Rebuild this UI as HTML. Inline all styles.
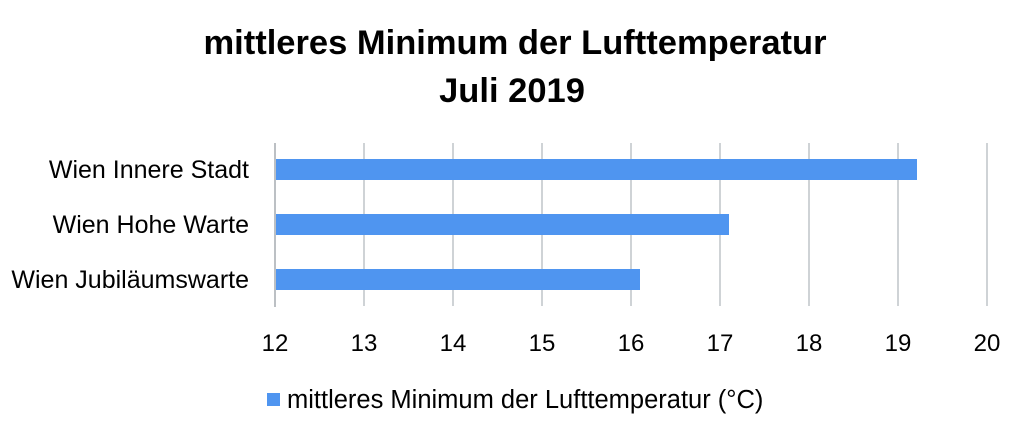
<!DOCTYPE html>
<html><head><style>
body{margin:0;background:#fff;width:1024px;height:433px;overflow:hidden;font-family:"Liberation Sans",sans-serif;}
</style></head><body>
<svg width="1024" height="433" xmlns="http://www.w3.org/2000/svg" font-family="Liberation Sans, sans-serif">
<text x="515" y="54" text-anchor="middle" font-size="34.5" font-weight="bold" fill="#000">mittleres Minimum der Lufttemperatur</text>
<text x="512" y="102" text-anchor="middle" font-size="34.5" font-weight="bold" fill="#000">Juli 2019</text>
<g stroke="#cfd3d6" stroke-width="2">
<line x1="364" y1="143" x2="364" y2="306"/><line x1="453" y1="143" x2="453" y2="306"/>
<line x1="542" y1="143" x2="542" y2="306"/><line x1="631" y1="143" x2="631" y2="306"/>
<line x1="720" y1="143" x2="720" y2="306"/><line x1="809" y1="143" x2="809" y2="306"/>
<line x1="898" y1="143" x2="898" y2="306"/><line x1="987" y1="143" x2="987" y2="306"/>
</g>
<g stroke="#bcc0c4" stroke-width="2"><line x1="275" y1="143" x2="275" y2="307"/><line x1="274" y1="306" x2="275" y2="306"/></g>
<g fill="#4f95f0">
<rect x="276" y="159" width="641" height="21"/>
<rect x="276" y="214" width="453" height="21"/>
<rect x="276" y="269" width="364" height="21"/>
</g>
<g font-size="25" fill="#000" text-anchor="end">
<text x="249" y="178">Wien Innere Stadt</text>
<text x="249" y="233">Wien Hohe Warte</text>
<text x="249" y="288">Wien Jubiläumswarte</text>
</g>
<g font-size="24" fill="#000" text-anchor="middle">
<text x="275" y="351">12</text><text x="364" y="351">13</text><text x="453" y="351">14</text>
<text x="542" y="351">15</text><text x="631" y="351">16</text><text x="720" y="351">17</text>
<text x="809" y="351">18</text><text x="898" y="351">19</text><text x="987" y="351">20</text>
</g>
<rect x="267" y="393" width="13" height="13" fill="#4f95f0"/>
<text x="287" y="408" font-size="25.5" fill="#000">mittleres Minimum der Lufttemperatur (°C)</text>
</svg>
</body></html>
